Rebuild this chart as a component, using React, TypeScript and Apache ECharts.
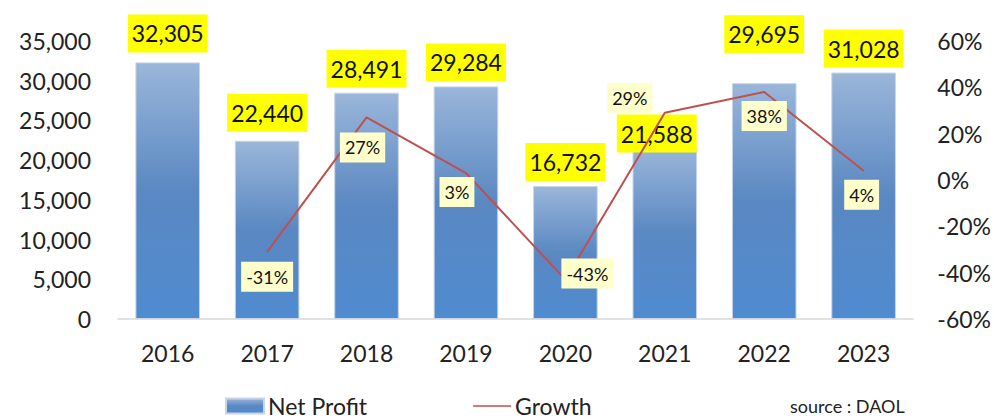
import React, { useEffect, useRef } from "react";
import * as echarts from "echarts";

const years = ["2016", "2017", "2018", "2019", "2020", "2021", "2022", "2023"];
const netProfit = [32305, 22440, 28491, 29284, 16732, 21588, 29695, 31028];
const growth: (number | null)[] = [null, -31, 27, 3, -43, 29, 38, 4];
const leftTicks = { min: 0, max: 35000, interval: 5000 };
const rightTicks = { min: -60, max: 60, interval: 20 };

// label placement tweaks (pixels), kept apart from data
const barLabelOffsets: [number, number][] = [
  [0, -5], [0, -4], [0, 0], [0, 0], [0, 0], [-8, 10], [0, -25], [0, 0],
];
const growthLabelOffsets: [number, number][] = [
  [0, 0], [0, 25], [-4, 30], [-9, 19], [22, -6], [-35, -15], [0, 24], [-2, 24],
];

const FONT = "Lato, 'DejaVu Sans', sans-serif";

export default function App() {
  const ref = useRef<HTMLDivElement>(null);
  useEffect(() => {
    if (!ref.current) return;
    const chart = echarts.init(ref.current, null, { renderer: "svg" });
    const barGradient = new echarts.graphic.LinearGradient(0, 0, 0, 1, [
      { offset: 0, color: "#9ab6da" },
      { offset: 0.5, color: "#5a88c2" },
      { offset: 1, color: "#4f8bd0" },
    ]);
    chart.setOption({
      animation: false,
      backgroundColor: "#ffffff",
      grid: { left: 118, right: 80, top: 41, bottom: 100, containLabel: false },
      legend: {
        left: 220,
        top: 389,
        itemWidth: 38,
        itemHeight: 15,
        itemGap: 106,
        textStyle: { fontFamily: FONT, fontSize: 23, color: "#222", lineHeight: 24, padding: [0, 0, 0, -1] },
        data: [
          { name: "Net Profit", icon: "rect" },
          { name: "Growth", icon: "path://M0,0 L40,0 L40,1.6 L0,1.6 Z" },
        ],
      },
      xAxis: {
        type: "category",
        data: years,
        axisLine: { show: true, lineStyle: { color: "#d9d9d9", width: 1.5 } },
        axisTick: { show: false },
        axisLabel: { fontFamily: FONT, fontSize: 23, color: "#222", margin: 22 },
      },
      yAxis: [
        {
          type: "value",
          min: leftTicks.min,
          max: leftTicks.max,
          interval: leftTicks.interval,
          axisLine: { show: false },
          axisTick: { show: false },
          splitLine: { show: false },
          axisLabel: {
            fontFamily: FONT,
            fontSize: 23,
            color: "#222",
            margin: 27,
            formatter: (v: number) => v.toLocaleString("en-US"),
          },
        },
        {
          type: "value",
          min: rightTicks.min,
          max: rightTicks.max,
          interval: rightTicks.interval,
          axisLine: { show: false },
          axisTick: { show: false },
          splitLine: { show: false },
          axisLabel: {
            fontFamily: FONT,
            fontSize: 23,
            color: "#222",
            margin: 24,
            formatter: "{value}%",
          },
        },
      ],
      series: [
        {
          name: "Net Profit",
          type: "bar",
          yAxisIndex: 0,
          barWidth: "65%",
          itemStyle: { color: barGradient, borderColor: "#c8d5e6", borderWidth: 1 },
          data: netProfit.map((v, i) => ({
            value: v,
            label: { offset: barLabelOffsets[i] },
          })),
          label: {
            show: true,
            position: "top",
            distance: 5,
            fontFamily: FONT,
            fontSize: 23,
            lineHeight: 28,
            color: "#111",
            backgroundColor: "#ffff00",
            padding: [5, 4, 5, 4],
            formatter: (p: any) => Number(p.value).toLocaleString("en-US"),
          },
          z: 1,
        },
        {
          name: "Growth",
          type: "line",
          yAxisIndex: 1,
          symbol: "circle",
          symbolSize: 1,
          showSymbol: true,
          connectNulls: false,
          lineStyle: { color: "#bf504d", width: 2 },
          itemStyle: { color: "#bf504d" },
          data: growth.map((v, i) => ({
            value: v,
            label: { offset: growthLabelOffsets[i] },
          })),
          label: {
            show: true,
            position: "inside",
            fontFamily: FONT,
            fontSize: 18,
            lineHeight: 22,
            color: "#111",
            backgroundColor: "#ffffcc",
            padding: [4, 5, 4, 5],
            formatter: (p: any) => (p.value == null ? "" : p.value + "%"),
          },
          z: 3,
        },
      ],
      graphic: [
        {
          type: "text",
          left: 790,
          top: 397,
          style: { text: "source : DAOL", fontFamily: FONT, fontSize: 18, fill: "#222" },
        },
      ],
    });
    return () => chart.dispose();
  }, []);
  return (
    <div
      ref={ref}
      style={{ position: "fixed", left: 0, top: 0, width: 994, height: 419 }}
    />
  );
}
